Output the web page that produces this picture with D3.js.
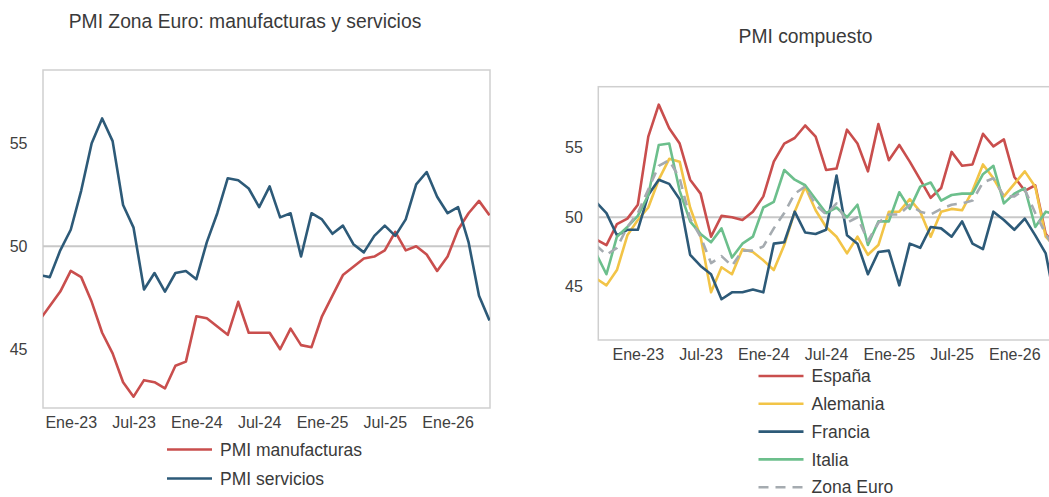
<!DOCTYPE html>
<html>
<head>
<meta charset="utf-8">
<script src="https://cdn.jsdelivr.net/npm/d3@7"></script>
<style>
  html, body { margin: 0; padding: 0; background: #ffffff; }
  svg { display: block; }
  text { font-family: "Liberation Sans", Arial, sans-serif; }
</style>
</head>
<body>
<svg id="chart" width="1049" height="497"></svg>
<script>
// ---------- DATA ----------
// Months (index 0 = Sep-22)
const months = ["2022-09","2022-10","2022-11","2022-12",
  "2023-01","2023-02","2023-03","2023-04","2023-05","2023-06","2023-07","2023-08","2023-09","2023-10","2023-11","2023-12",
  "2024-01","2024-02","2024-03","2024-04","2024-05","2024-06","2024-07","2024-08","2024-09","2024-10","2024-11","2024-12",
  "2025-01","2025-02","2025-03","2025-04","2025-05","2025-06","2025-07","2025-08","2025-09","2025-10","2025-11","2025-12",
  "2026-01","2026-02","2026-03","2026-04","2026-05"];

const tickMonths = ["2023-01","2023-07","2024-01","2024-07","2025-01","2025-07","2026-01"];
const tickLabels = ["Ene-23","Jul-23","Ene-24","Jul-24","Ene-25","Jul-25","Ene-26"];
const yTicks = [45, 50, 55];

// Left chart (starts Oct-22)
const pmiManufacturas = [46.4,47.1,47.8,
  48.8,48.5,47.3,45.8,44.8,43.4,42.7,43.5,43.4,43.1,44.2,44.4,
  46.6,46.5,46.1,45.7,47.3,45.8,45.8,45.8,45.0,46.0,45.2,45.1,
  46.6,47.6,48.6,49.0,49.4,49.5,49.8,50.7,49.8,50.0,49.6,48.8,
  49.5,50.8,51.6,52.2,51.5];
const pmiServicios = [48.6,48.5,49.8,
  50.8,52.7,55.0,56.2,55.1,52.0,50.9,47.9,48.7,47.8,48.7,48.8,
  48.4,50.2,51.6,53.3,53.2,52.8,51.9,52.9,51.4,51.6,49.5,51.6,
  51.3,50.6,51.0,50.1,49.7,50.5,51.0,50.5,51.3,53.0,53.6,52.4,
  51.6,51.9,50.2,47.6,46.4];

// Right chart (starts Sep-22)
const espana = [48.4,48.0,49.5,49.9,
  50.9,55.8,58.1,56.4,55.3,52.7,51.7,48.6,50.1,50.0,49.8,50.4,
  51.5,54.0,55.3,55.7,56.6,55.8,53.4,53.5,56.3,55.3,53.3,56.7,
  54.1,55.2,54.0,52.7,51.4,52.1,54.7,53.7,53.8,56.0,55.1,55.6,
  52.9,51.9,52.3,48.8,47.9];
const alemania = [45.6,45.1,46.2,48.7,
  49.8,50.7,52.7,54.2,54.0,50.7,48.6,44.6,46.4,45.9,47.7,47.5,
  46.9,46.2,48.0,50.4,52.2,50.5,49.3,48.6,47.4,48.6,47.3,48.0,
  50.4,50.4,51.3,50.4,48.6,50.4,50.6,50.5,51.9,53.8,52.8,51.5,
  52.4,53.3,52.2,48.6,47.8];
const francia = [51.1,50.3,48.7,49.1,
  49.1,51.6,52.7,52.4,51.3,47.3,46.5,45.9,44.1,44.6,44.6,44.8,
  44.6,48.1,48.2,50.4,48.9,48.8,49.1,53.0,48.7,48.1,45.9,47.5,
  47.6,45.1,48.1,47.8,49.3,49.2,48.6,49.7,48.1,47.7,50.4,49.8,
  49.1,49.9,48.7,47.4,43.5];
const italia = [47.4,45.9,48.6,49.3,
  50.1,51.6,55.2,55.3,51.9,49.7,48.8,48.2,49.2,47.1,48.1,48.6,
  50.7,51.1,53.4,52.7,52.3,51.3,50.3,50.7,50.0,50.9,48.0,49.7,
  49.7,51.8,50.6,52.2,52.5,51.2,51.6,51.7,51.7,53.1,53.7,51.0,
  51.7,52.1,49.3,50.4,50.2];
const zonaEuro = [48.0,47.3,47.8,49.3,
  50.3,52.0,53.7,54.1,52.8,49.9,48.6,46.7,47.2,46.5,47.6,47.6,
  47.9,49.2,50.3,51.7,52.2,50.9,50.2,51.0,49.6,50.0,48.3,49.6,
  50.2,50.2,50.9,50.4,50.2,50.6,50.9,51.0,51.2,52.5,52.8,51.5,
  51.5,52.0,50.3,48.8,47.5];

// ---------- STYLE ----------
const C = {
  red: "#c94e4d", blue: "#2d5a78", yellow: "#f2c447", green: "#6cbf8c", gray: "#a5abb0",
  frame: "#cfcfcf", grid: "#c8c8c8", text: "#3a3a3a"
};

const svg = d3.select("#chart");
svg.append("rect").attr("width", 1049).attr("height", 497).attr("fill", "#fff");

const mIndex = m => months.indexOf(m) - 4; // 0 = Jan-23

function panel(cfg) {
  const g = svg.append("g");
  const x = d3.scaleLinear().domain(cfg.xDomain).range([cfg.left, cfg.right]);
  const y = d3.scaleLinear().domain(cfg.yDomain).range([cfg.bottom, cfg.top]);

  const clipId = "clip-" + cfg.id;
  svg.append("clipPath").attr("id", clipId)
    .append("rect").attr("x", cfg.left).attr("y", cfg.top)
    .attr("width", cfg.right - cfg.left).attr("height", cfg.bottom - cfg.top);

  // frame
  g.append("rect").attr("x", cfg.left).attr("y", cfg.top)
    .attr("width", cfg.right - cfg.left).attr("height", cfg.bottom - cfg.top)
    .attr("fill", "none").attr("stroke", C.frame).attr("stroke-width", 1.5);

  // 50 line
  g.append("line").attr("x1", cfg.left).attr("x2", cfg.right)
    .attr("y1", y(50)).attr("y2", y(50))
    .attr("stroke", C.grid).attr("stroke-width", 2);

  // axes
  const xa = g.append("g").attr("transform", `translate(0,${cfg.bottom})`)
    .call(d3.axisBottom(x).tickValues(tickMonths.map(mIndex))
      .tickFormat((d, i) => tickLabels[i]).tickSize(0).tickPadding(9));
  xa.select(".domain").remove();
  xa.selectAll("text").attr("font-size", 16).attr("fill", "#404040")
    .attr("font-family", "Liberation Sans, Arial, sans-serif");

  const ya = g.append("g").attr("transform", `translate(${cfg.left},0)`)
    .call(d3.axisLeft(y).tickValues(yTicks).tickSize(0).tickPadding(15.5));
  ya.select(".domain").remove();
  ya.selectAll("text").attr("font-size", 16).attr("fill", "#404040")
    .attr("font-family", "Liberation Sans, Arial, sans-serif");

  // lines
  const lg = g.append("g").attr("clip-path", `url(#${clipId})`);
  cfg.series.forEach(s => {
    const line = d3.line().x((d, i) => x(i + s.start)).y(d => y(d));
    lg.append("path").datum(s.values)
      .attr("fill", "none").attr("stroke", s.color).attr("stroke-width", 2.6)
      .attr("stroke-linejoin", "round")
      .attr("stroke-dasharray", s.dash || null)
      .attr("d", line);
  });

  // title
  svg.append("text").attr("x", cfg.titleX).attr("y", cfg.titleY)
    .attr("text-anchor", "middle").attr("font-size", 19.3).attr("fill", C.text)
    .text(cfg.title);

  // legend
  const leg = svg.append("g");
  cfg.series.forEach((s, i) => {
    const yy = cfg.legY + i * cfg.legStep;
    leg.append("line").attr("x1", cfg.legX).attr("x2", cfg.legX + 45)
      .attr("y1", yy).attr("y2", yy)
      .attr("stroke", s.color).attr("stroke-width", 2.6)
      .attr("stroke-dasharray", s.dash || null);
    leg.append("text").attr("x", cfg.legX + 53).attr("y", yy).attr("dy", "0.35em")
      .attr("font-size", 17.5).attr("fill", C.text).text(s.name);
  });
}

panel({
  id: "left", left: 43, right: 490, top: 70, bottom: 408,
  xDomain: [-2.65, 40.05], yDomain: [42.15, 58.55],
  title: "PMI Zona Euro: manufacturas y servicios", titleX: 245, titleY: 28.3,
  legX: 167, legY: 449.5, legStep: 29,
  series: [
    { name: "PMI manufacturas", values: pmiManufacturas, start: mIndex("2022-10"), color: C.red },
    { name: "PMI servicios", values: pmiServicios, start: mIndex("2022-10"), color: C.blue }
  ]
});

panel({
  id: "right", left: 598.3, right: 1056.7, top: 86.7, bottom: 340,
  xDomain: [-3.78, 40.05], yDomain: [41.17, 59.39],
  title: "PMI compuesto", titleX: 805.5, titleY: 43.3,
  legX: 758.5, legY: 376, legStep: 27.8,
  series: [
    { name: "España", values: espana, start: mIndex("2022-09"), color: C.red },
    { name: "Alemania", values: alemania, start: mIndex("2022-09"), color: C.yellow },
    { name: "Francia", values: francia, start: mIndex("2022-09"), color: C.blue },
    { name: "Italia", values: italia, start: mIndex("2022-09"), color: C.green },
    { name: "Zona Euro", values: zonaEuro, start: mIndex("2022-09"), color: C.gray, dash: "10,7" }
  ]
});
</script>
</body>
</html>
